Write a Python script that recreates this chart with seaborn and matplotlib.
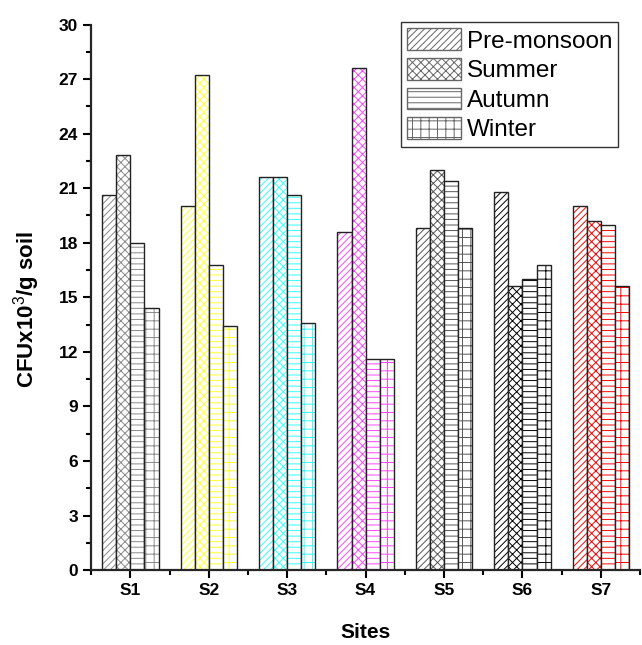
import numpy as np
import pandas as pd
import matplotlib
matplotlib.use("Agg")
import matplotlib.pyplot as plt
import matplotlib.colors as mcolors
from matplotlib.patches import Patch
from matplotlib.ticker import MultipleLocator
import seaborn as sns

# --- data ---
sites = ["S1", "S2", "S3", "S4", "S5", "S6", "S7"]
seasons = ["Pre-monsoon", "Summer", "Autumn", "Winter"]
pre_monsoon = [20.6, 20.0, 21.6, 18.6, 18.8, 20.8, 20.0]
summer = [22.8, 27.2, 21.6, 27.6, 22.0, 15.6, 19.2]
autumn = [18.0, 16.8, 20.6, 11.6, 21.4, 16.0, 19.0]
winter = [14.4, 13.4, 13.6, 11.6, 18.8, 16.8, 15.6]

site_colors = ["#8a8a8a", "#ffff33", "#33ffff", "#ff44ff", "#555555", "#000000", "#ff0000"]
hatches = ["/////", "xxxx", "---", "++"]

df = pd.DataFrame({
    "site": sites * 4,
    "season": np.repeat(seasons, len(sites)),
    "value": pre_monsoon + summer + autumn + winter,
})

sns.set_style("ticks")
plt.rcParams["font.family"] = ["Liberation Sans", "DejaVu Sans"]
plt.rcParams["mathtext.fontset"] = "custom"
plt.rcParams["mathtext.rm"] = "Liberation Sans"
plt.rcParams["mathtext.bf"] = "Liberation Sans:bold"
plt.rcParams["hatch.linewidth"] = 0.7
for key in ["text.color", "axes.labelcolor", "xtick.color", "ytick.color"]:
    plt.rcParams[key] = "black"

fig = plt.figure(figsize=(6.42, 6.45), dpi=100)
ax = fig.add_axes([0.142, 0.116, 0.855, 0.846])

sns.barplot(data=df, x="site", y="value", hue="season", order=sites,
            hue_order=seasons, width=0.72, gap=0, legend=False, ax=ax,
            errorbar=None)

# colour each bar: white fill, hatch in site colour, dark outline
for k, cont in enumerate(ax.containers):
    for i, bar in enumerate(cont):
        bar.set_facecolor("white")
        bar.set_hatch(hatches[k])
        bar.set_edgecolor("#222222")
        bar.set_linewidth(1.0)
        bar._hatch_color = mcolors.to_rgba(site_colors[i])

ax.set_ylim(0, 30)
ax.set_xlim(-0.49, 6.38)
ax.yaxis.set_major_locator(MultipleLocator(3))
ax.yaxis.set_minor_locator(MultipleLocator(1.5))
ax.set_xticks(range(len(sites)))
ax.set_xticks(np.arange(-0.5, 6.6, 1.0), minor=True)
ax.tick_params(axis="both", which="major", direction="out", length=6, width=1.5,
               labelsize=12.5)
ax.tick_params(axis="both", which="minor", direction="out", length=3.5, width=1.5)
for lab in ax.get_xticklabels() + ax.get_yticklabels():
    lab.set_fontweight("bold")

sns.despine(ax=ax)
ax.spines["left"].set_linewidth(1.6)
ax.spines["bottom"].set_linewidth(1.6)

ax.set_xlabel("Sites", fontsize=15, fontweight="bold", labelpad=18)
ax.set_ylabel(r"CFUx10$^{\mathrm{3}}$/g soil", fontsize=16, fontweight="bold")
ax.yaxis.set_label_coords(-0.09, 0.478)

handles = [Patch(facecolor="white", edgecolor="#666666", hatch=h, linewidth=1.0)
           for h in hatches]
leg = ax.legend(handles, seasons, loc="upper left", bbox_to_anchor=(0.565, 1.004),
                fontsize=17.5, frameon=True, fancybox=False, handlelength=2.2,
                handleheight=1.0, handletextpad=0.25, labelspacing=0.22,
                borderpad=0.25, borderaxespad=0.0)
leg.get_frame().set_edgecolor("black")
leg.get_frame().set_linewidth(1.0)

fig.savefig("out.png", dpi=100)
